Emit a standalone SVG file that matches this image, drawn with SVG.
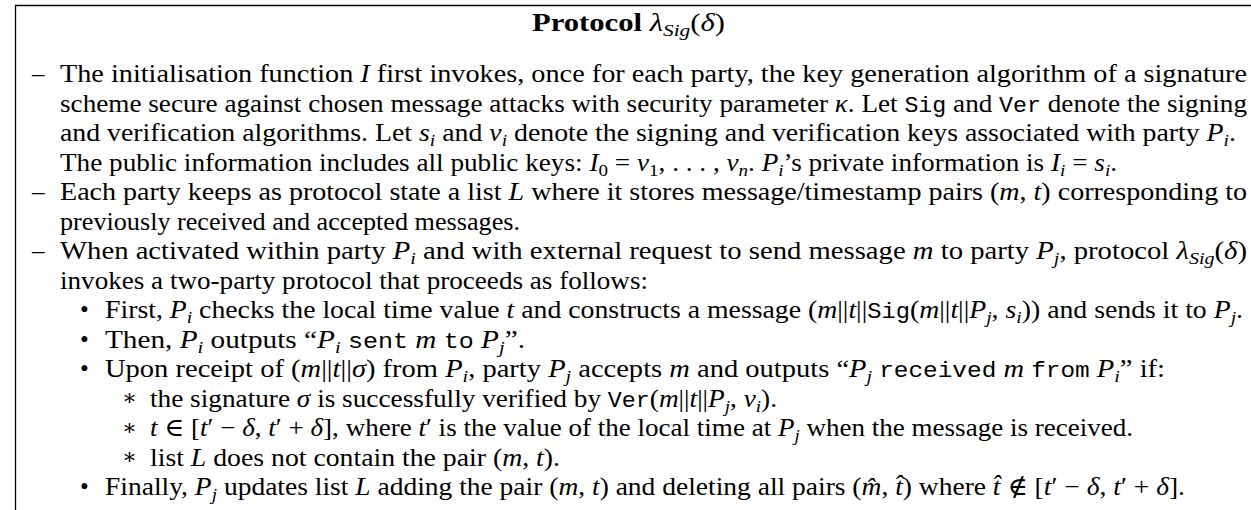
<svg xmlns="http://www.w3.org/2000/svg" width="1251" height="510" viewBox="0 0 1251 510">
<style>
text { font-family: "Liberation Serif", "DejaVu Serif", serif; font-size: 25px; fill: #000; }
.i { font-style: italic; }
.b { font-weight: bold; }
.m { font-family: "Liberation Mono", "DejaVu Sans Mono", monospace; font-size: 21.4px; }
.s { font-style: italic; font-size: 17.5px; baseline-shift: -5px; }
.su { font-size: 17.5px; baseline-shift: -5px; }
.sym { font-family: "DejaVu Serif", "Liberation Serif", serif; }
.ast { font-family: "DejaVu Serif", "Liberation Serif", serif; font-size: 22px; }
.frame { stroke: #000; stroke-width: 1.3; fill: none; }
</style>
<rect width="1251" height="510" fill="#fff"/>
<g id="frame">
<path class="frame" d="M15.5,510 V5.5 H1251"/>
</g>
<g id="title">
<text x="532" y="31" textLength="193" lengthAdjust="spacingAndGlyphs"><tspan class="b">Protocol </tspan><tspan class="i">λ</tspan><tspan class="s">Sig</tspan>(<tspan class="i">δ</tspan>)</text>
</g>
<g id="item-init">
<text x="32" y="82">–</text>
<text x="60" y="82" textLength="1187" lengthAdjust="spacingAndGlyphs">The initialisation function <tspan class="i">I</tspan> first invokes, once for each party, the key generation algorithm of a signature</text>
<text x="60" y="111.5" textLength="1187" lengthAdjust="spacingAndGlyphs">scheme secure against chosen message attacks with security parameter <tspan class="i">κ</tspan>. Let <tspan class="m">Sig</tspan> and <tspan class="m">Ver</tspan> denote the signing</text>
<text x="60" y="141" textLength="1176" lengthAdjust="spacingAndGlyphs">and verification algorithms. Let <tspan class="i">s</tspan><tspan class="s">i</tspan> and <tspan class="i">v</tspan><tspan class="s">i</tspan> denote the signing and verification keys associated with party <tspan class="i">P</tspan><tspan class="s">i</tspan>.</text>
<text x="60" y="170.5" textLength="1057" lengthAdjust="spacingAndGlyphs">The public information includes all public keys: <tspan class="i">I</tspan><tspan class="su">0</tspan> = <tspan class="i">v</tspan><tspan class="su">1</tspan>, . . . , <tspan class="i">v</tspan><tspan class="s">n</tspan>. <tspan class="i">P</tspan><tspan class="s">i</tspan>’s private information is <tspan class="i">I</tspan><tspan class="s">i</tspan> = <tspan class="i">s</tspan><tspan class="s">i</tspan>.</text>
</g>
<g id="item-state">
<text x="32" y="200">–</text>
<text x="60" y="200" textLength="1187" lengthAdjust="spacingAndGlyphs">Each party keeps as protocol state a list <tspan class="i">L</tspan> where it stores message/timestamp pairs (<tspan class="i">m</tspan>, <tspan class="i">t</tspan>) corresponding to</text>
<text x="60" y="229.5" textLength="460" lengthAdjust="spacingAndGlyphs">previously received and accepted messages.</text>
</g>
<g id="item-activate">
<text x="32" y="259">–</text>
<text x="60" y="259" textLength="1187" lengthAdjust="spacingAndGlyphs">When activated within party <tspan class="i">P</tspan><tspan class="s">i</tspan> and with external request to send message <tspan class="i">m</tspan> to party <tspan class="i">P</tspan><tspan class="s">j</tspan>, protocol <tspan class="i">λ</tspan><tspan class="s">Sig</tspan>(<tspan class="i">δ</tspan>)</text>
<text x="60" y="288.5" textLength="588" lengthAdjust="spacingAndGlyphs">invokes a two-party protocol that proceeds as follows:</text>
</g>
<g id="bullet-first">
<text x="80" y="318">•</text>
<text x="105" y="318" textLength="1138" lengthAdjust="spacingAndGlyphs">First, <tspan class="i">P</tspan><tspan class="s">i</tspan> checks the local time value <tspan class="i">t</tspan> and constructs a message (<tspan class="i">m</tspan>||<tspan class="i">t</tspan>||<tspan class="m">Sig</tspan>(<tspan class="i">m</tspan>||<tspan class="i">t</tspan>||<tspan class="i">P</tspan><tspan class="s">j</tspan>, <tspan class="i">s</tspan><tspan class="s">i</tspan>)) and sends it to <tspan class="i">P</tspan><tspan class="s">j</tspan>.</text>
</g>
<g id="bullet-then">
<text x="80" y="347.5">•</text>
<text x="105" y="347.5" textLength="420" lengthAdjust="spacingAndGlyphs">Then, <tspan class="i">P</tspan><tspan class="s">i</tspan> outputs “<tspan class="i">P</tspan><tspan class="s">i</tspan> <tspan class="m">sent</tspan> <tspan class="i">m</tspan> <tspan class="m">to</tspan> <tspan class="i">P</tspan><tspan class="s">j</tspan>”.</text>
</g>
<g id="bullet-upon">
<text x="80" y="377">•</text>
<text x="105" y="377" textLength="1060" lengthAdjust="spacingAndGlyphs">Upon receipt of (<tspan class="i">m</tspan>||<tspan class="i">t</tspan>||<tspan class="i">σ</tspan>) from <tspan class="i">P</tspan><tspan class="s">i</tspan>, party <tspan class="i">P</tspan><tspan class="s">j</tspan> accepts <tspan class="i">m</tspan> and outputs “<tspan class="i">P</tspan><tspan class="s">j</tspan> <tspan class="m">received</tspan> <tspan class="i">m</tspan> <tspan class="m">from</tspan> <tspan class="i">P</tspan><tspan class="s">i</tspan>” if:</text>
<text class="ast" x="122" y="405">∗</text>
<text x="150" y="406.5" textLength="627" lengthAdjust="spacingAndGlyphs">the signature <tspan class="i">σ</tspan> is successfully verified by <tspan class="m">Ver</tspan>(<tspan class="i">m</tspan>||<tspan class="i">t</tspan>||<tspan class="i">P</tspan><tspan class="s">j</tspan>, <tspan class="i">v</tspan><tspan class="s">i</tspan>).</text>
<text class="ast" x="122" y="434.5">∗</text>
<text x="150" y="436" textLength="983" lengthAdjust="spacingAndGlyphs"><tspan class="i">t</tspan> ∈ [<tspan class="i">t</tspan>′ − <tspan class="i">δ</tspan>, <tspan class="i">t</tspan>′ + <tspan class="i">δ</tspan>], where <tspan class="i">t</tspan>′ is the value of the local time at <tspan class="i">P</tspan><tspan class="s">j</tspan> when the message is received.</text>
<text class="ast" x="122" y="464">∗</text>
<text x="150" y="465.5" textLength="410" lengthAdjust="spacingAndGlyphs">list <tspan class="i">L</tspan> does not contain the pair (<tspan class="i">m</tspan>, <tspan class="i">t</tspan>).</text>
</g>
<g id="bullet-finally">
<text x="80" y="495">•</text>
<text x="105" y="495" textLength="1080" lengthAdjust="spacingAndGlyphs">Finally, <tspan class="i">P</tspan><tspan class="s">j</tspan> updates list <tspan class="i">L</tspan> adding the pair (<tspan class="i">m</tspan>, <tspan class="i">t</tspan>) and deleting all pairs (<tspan class="i">m̂</tspan>, <tspan class="i">t̂</tspan>) where <tspan class="i">t̂</tspan> <tspan class="sym">∉</tspan> [<tspan class="i">t</tspan>′ − <tspan class="i">δ</tspan>, <tspan class="i">t</tspan>′ + <tspan class="i">δ</tspan>].</text>
</g>
</svg>
